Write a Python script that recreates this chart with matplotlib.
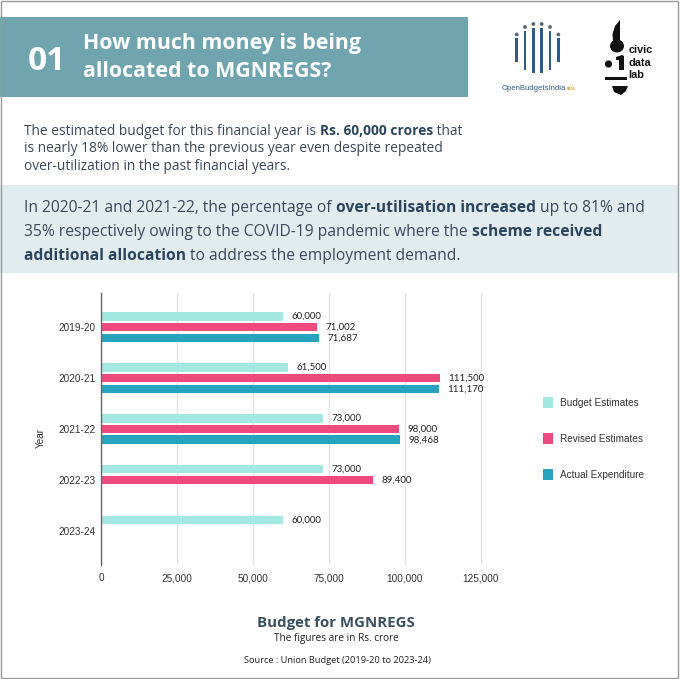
import matplotlib
matplotlib.use("Agg")
import matplotlib.pyplot as plt
from matplotlib import font_manager
from matplotlib.patches import Rectangle, Circle, Polygon, Ellipse
from matplotlib.transforms import Affine2D
import numpy as np

# ---------------- data ----------------
years = ["2019-20", "2020-21", "2021-22", "2022-23", "2023-24"]
budget_estimates = [60000, 61500, 73000, 73000, 60000]
revised_estimates = [71002, 111500, 98000, 89400, None]
actual_expenditure = [71687, 111170, 98468, None, None]
series_names = ["Budget Estimates", "Revised Estimates", "Actual Expenditure"]
x_ticks = [0, 25000, 50000, 75000, 100000, 125000]

colors = ["#a3e9e1", "#ef4a7d", "#27a3bd"]

W, H = 680, 679
fig = plt.figure(figsize=(W / 100, H / 100), dpi=100)
fig.patch.set_facecolor("white")
T = Affine2D().scale(1 / W, -1 / H).translate(0, 1) + fig.transFigure
renderer = fig.canvas.get_renderer()

BODY = "Open Sans"
CHART = "Lato"
installed = {f.name for f in font_manager.fontManager.ttflist}
NARROW = "Liberation Sans Narrow" if "Liberation Sans Narrow" in installed else "Liberation Sans"


def text_width(s, size, weight, family):
    t1 = fig.text(0, 0, "|" + s + "|", fontsize=size, fontweight=weight, family=family)
    t2 = fig.text(0, 0, "||", fontsize=size, fontweight=weight, family=family)
    w = t1.get_window_extent(renderer).width - t2.get_window_extent(renderer).width
    t1.remove(); t2.remove()
    return w


def line_width(segs, size, family):
    return sum(text_width(s, size, "bold" if b else "normal", family) for s, b in segs)


def fit_size(segs, target, family, base=10):
    return base * target / line_width(segs, base, family)


def draw_line(segs, x, y, size, family, c_norm, c_bold):
    for s, b in segs:
        fig.text(x, y, s, transform=T, fontsize=size, family=family,
                 fontweight="bold" if b else "normal",
                 color=c_bold if b else c_norm, va="baseline", ha="left")
        x += text_width(s, size, "bold" if b else "normal", family)
    return x


# ---------------- background blocks ----------------
fig.add_artist(Rectangle((0, 17), 468, 80, transform=T, facecolor="#70a4ae", edgecolor="none"))
fig.add_artist(Rectangle((0, 185), 678, 88, transform=T, facecolor="#e2ebee", edgecolor="none"))
fig.add_artist(Rectangle((0.5, 0.5), 677.5, 677, transform=T, facecolor="none", edgecolor="#9a9a9a", lw=1))

# header
fig.text(28, 70, "01", transform=T, fontsize=24, family=BODY, fontweight="bold",
         color="white", va="baseline", ha="left")
ts = fit_size([("How much money is being", True)], 279, BODY)
draw_line([("How much money is being", True)], 83, 48.5, ts, BODY, "white", "white")
draw_line([("allocated to MGNREGS?", True)], 83, 77, ts, BODY, "white", "white")

# paragraph 1
p1 = [
    [("The estimated budget for this financial year is ", False), ("Rs. 60,000 crores", True), (" that", False)],
    [("is nearly 18% lower than the previous year even despite repeated", False)],
    [("over-utilization in the past financial years.", False)],
]
s1 = fit_size(p1[0], 438, BODY)
for i, segs in enumerate(p1):
    draw_line(segs, 24, 135 + i * 17.5, s1, BODY, "#3c4858", "#2e465c")

# paragraph 2
p2 = [
    [("In 2020-21 and 2021-22, the percentage of ", False), ("over-utilisation increased", True), (" up to 81% and", False)],
    [("35% respectively owing to the COVID-19 pandemic where the ", False), ("scheme received", True)],
    [("additional allocation", True), (" to address the employment demand.", False)],
]
s2 = fit_size(p2[0], 623, BODY)
for i, segs in enumerate(p2):
    draw_line(segs, 24, 211.5 + i * 24.5, s2, BODY, "#3c4a5a", "#2c465d")

# ---------------- logos ----------------
obi_blue = "#2d5a86"
xs = [516.7 + i * 8.33 for i in range(6)]
tops = [38, 30.5, 28, 28, 30.5, 38]
bots = [62, 70, 73, 73, 70, 62]
dots = [34.5, 27, 24, 24, 27, 34.5]
for x, t, b, d in zip(xs, tops, bots, dots):
    fig.add_artist(Rectangle((x - 1.3, t), 2.6, b - t, transform=T, facecolor=obi_blue, edgecolor="none"))
    fig.add_artist(Circle((x, d), 1.9, transform=T, facecolor="#5d6670", edgecolor="none"))
os_ = fit_size([("OpenBudgetsIndia", False)], 64, NARROW)
xe = draw_line([("OpenBudgetsIndia", False)], 501.5, 89.5, os_, NARROW, obi_blue, obi_blue)
fig.text(xe + 1, 89.5, "BETA", transform=T, fontsize=2.6, family=BODY, fontweight="bold",
         color="#e8a23a", va="baseline", ha="left")

blk = "#111111"
fig.add_artist(Polygon([(620, 20), (615, 26), (612.5, 34), (613, 42), (620, 44)], closed=True,
                       transform=T, facecolor=blk, edgecolor="none"))
fig.add_artist(Ellipse((617, 46), 14, 13, transform=T, facecolor=blk, edgecolor="none"))
fig.add_artist(Circle((608.5, 64), 3.6, transform=T, facecolor=blk, edgecolor="none"))
fig.add_artist(Polygon([(616, 57), (622, 55), (624, 56), (624, 70), (619, 70), (619, 60), (616, 60)],
                       closed=True, transform=T, facecolor=blk, edgecolor="none"))
fig.add_artist(Rectangle((605, 77), 22, 3, transform=T, facecolor=blk, edgecolor="none"))
fig.add_artist(Polygon([(612, 86), (628, 86), (626, 91), (621, 95), (614, 92)], closed=True,
                       transform=T, facecolor=blk, edgecolor="none"))
cs = fit_size([("civic", True)], 24, NARROW)
for i, w in enumerate(["civic", "data", "lab"]):
    fig.text(628.5, 53 + i * 12.5, w, transform=T, fontsize=cs, family=NARROW, fontweight="bold",
             color=blk, va="baseline", ha="left")

# ---------------- chart ----------------
ax_l, ax_r, ax_t, ax_b = 101, 496, 293, 565
ax = fig.add_axes([ax_l / W, 1 - ax_b / H, (ax_r - ax_l) / W, (ax_b - ax_t) / H])
ax.set_facecolor("none")
ax.set_xlim(0, 130000)
ax.set_ylim(4.67, -0.67)

tick_size = fit_size([("Budget Estimates", False)], 79, NARROW)

ypos = np.arange(len(years))
slot = 0.21
bh = 0.165
for k, vals in enumerate([budget_estimates, revised_estimates, actual_expenditure]):
    for i, v in enumerate(vals):
        if v is None:
            continue
        y = ypos[i] + (k - 1) * slot
        ax.barh(y, v, height=bh, color=colors[k], zorder=3)
        ax.annotate(f"{v:,}", (v, y), xytext=(8.5, 0), textcoords="offset pixels",
                    fontsize=7, family=CHART, color="#222222", va="center", ha="left")

ax.set_yticks(ypos)
ax.set_yticklabels(years, fontsize=tick_size, family=NARROW, color="#333333")
ax.set_xticks(x_ticks)
ax.set_xticklabels([f"{t:,}" for t in x_ticks], fontsize=tick_size, family=NARROW, color="#333333")
ax.tick_params(axis="both", length=0)
ax.tick_params(axis="x", pad=6)
ax.tick_params(axis="y", pad=3.6)
ax.grid(axis="x", color="#e2e2e2", lw=1, zorder=0)
for sp in ["top", "right", "bottom"]:
    ax.spines[sp].set_visible(False)
ax.spines["left"].set_color("#666666")
ax.spines["left"].set_linewidth(1)
ax.spines["left"].set_zorder(4)

fig.text(41, 438, "Year", transform=T, fontsize=tick_size, family=NARROW, color="#333333",
         rotation=90, va="center", ha="center")

# legend
for k, name in enumerate(series_names):
    yc = 402.5 + k * 36
    fig.add_artist(Rectangle((543, yc - 5.5), 10, 11, transform=T, facecolor=colors[k], edgecolor="none"))
    fig.text(560, yc, name, transform=T, fontsize=tick_size, family=NARROW, color="#333333",
             va="center", ha="left")

# bottom texts
bs = fit_size([("Budget for MGNREGS", True)], 158, BODY)
fig.text(336, 627, "Budget for MGNREGS", transform=T, fontsize=bs, family=BODY, fontweight="bold",
         color="#3c5064", va="baseline", ha="center")
ss = fit_size([("The figures are in Rs. crore", False)], 125, BODY)
fig.text(336, 641.5, "The figures are in Rs. crore", transform=T, fontsize=ss, family=BODY,
         color="#222222", va="baseline", ha="center")
sr = fit_size([("Source : Union Budget (2019-20 to 2023-24)", False)], 187, BODY)
fig.text(337.5, 663, "Source : Union Budget (2019-20 to 2023-24)", transform=T, fontsize=sr, family=BODY,
         color="#222222", va="baseline", ha="center")

fig.savefig("out.png", dpi=100, facecolor="white")
